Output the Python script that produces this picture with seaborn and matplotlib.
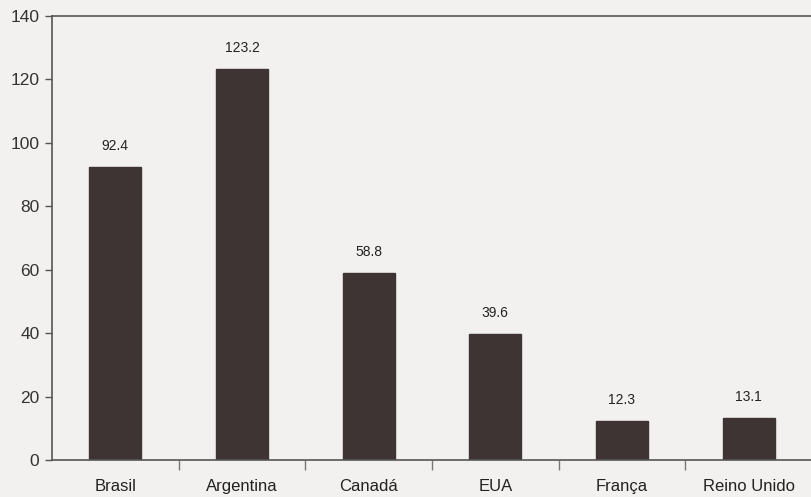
import matplotlib
matplotlib.use("Agg")
import matplotlib.pyplot as plt
import seaborn as sns
import pandas as pd
import numpy as np

categories = ["Brasil", "Argentina", "Canadá", "EUA", "França", "Reino Unido"]
values = [92.4, 123.2, 58.8, 39.6, 12.3, 13.1]
yticks = [0, 20, 40, 60, 80, 100, 120, 140]

sns.set_style("white")
plt.rcParams['font.family'] = ['Liberation Sans', 'DejaVu Sans']

bg = "#f2f1ef"
fig = plt.figure(figsize=(8.12, 4.97), dpi=100, facecolor=bg)
ax = fig.add_axes([0.064, 0.0744, 0.936, 0.8936])
ax.set_facecolor(bg)

df = pd.DataFrame({"cat": categories, "val": values})
sns.barplot(data=df, x="cat", y="val", color="#3d3433", width=0.41,
            saturation=1, ax=ax, edgecolor="#3d3433")

for i, v in enumerate(values):
    ax.text(i, v + 4.5, f"{v:.1f}", ha="center", va="bottom", fontsize=10, color="#222222")

ax.set_ylim(0, 140)
ax.set_xlim(-0.5, len(categories) - 0.5)
ax.set_yticks(yticks)
ax.set_yticklabels([str(t) for t in yticks], fontsize=12.5, color="#333333")
ax.set_xlabel("")
ax.set_ylabel("")

for s in ["right"]:
    ax.spines[s].set_visible(False)
for s in ["left", "top", "bottom"]:
    ax.spines[s].set_color("#555555")
    ax.spines[s].set_linewidth(1.2)

ax.tick_params(axis="y", direction="out", length=5, width=1, color="#555555", left=True, pad=4)
ax.tick_params(axis="x", which="major", length=0, pad=14, labelsize=12, labelcolor="#222222")
ax.set_xticks(np.arange(len(categories) - 1) + 0.5, minor=True)
ax.tick_params(axis="x", which="minor", direction="out", length=7, width=1, color="#777777", bottom=True)

fig.savefig("out.png", dpi=100, facecolor=bg)
